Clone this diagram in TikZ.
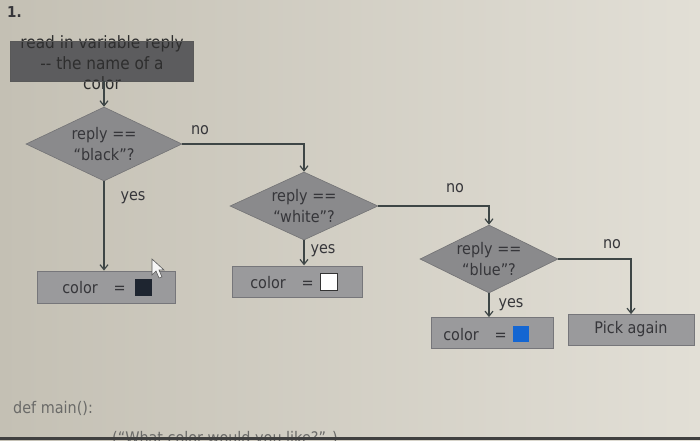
\documentclass[tikz,border=0pt]{standalone}
\usepackage{fontspec}
\setmainfont{DejaVu Sans}[FakeStretch=0.9]
\usetikzlibrary{shapes.geometric,arrows.meta}
\definecolor{bgL}{HTML}{C4C0B4}
\definecolor{bgR}{HTML}{E2DFD6}
\definecolor{txt}{HTML}{36363A}
\definecolor{ln}{HTML}{3E4646}
\definecolor{diaF}{HTML}{8A8A8C}
\definecolor{diaB}{HTML}{737375}
\definecolor{boxF}{HTML}{9A9A9C}
\definecolor{boxB}{HTML}{76767A}
\definecolor{topF}{HTML}{5C5C5E}
\definecolor{blueSq}{HTML}{1466D2}
\definecolor{darkSq}{HTML}{1E2530}
\definecolor{codeT}{HTML}{6A6A68}
\begin{document}
\begin{tikzpicture}[x=1pt,y=-1pt,
  lbl/.style={font=\fontsize{16}{18}\selectfont, text=txt, inner sep=0pt},
  dtext/.style={font=\fontsize{16}{21}\selectfont, text=txt, align=center, inner sep=0pt},
  dia/.style={diamond, draw=diaB, fill=diaF, inner sep=0pt, line width=0.6pt},
  boxn/.style={rectangle, draw=boxB, fill=boxF, inner sep=0pt, line width=0.8pt},
  sq/.style={rectangle, inner sep=0pt, minimum width=17pt, minimum height=17pt},
  conn/.style={draw=ln, line width=1.2pt, -{Straight Barb[length=5pt,width=8pt]}},
  plain/.style={draw=ln, line width=1.2pt}
]
\clip (0,0) rectangle (700,440);
\shade[left color=bgL, right color=bgR] (0,0) rectangle (700,440);

% number
\node[lbl, font=\fontsize{15}{17}\selectfont\bfseries, anchor=west] (num) at (7,12) {1.};

% top box
\fill[topF] (10,41) rectangle (193,81);
\node[font=\fontsize{17}{20.5}\selectfont, text=black!82, align=center, inner sep=0pt] (top) at (102,63) {read in variable reply\\-{}- the name of a\\color};
\draw[draw=black!65, line width=0.8pt] (10,41) rectangle (193,81);
\coordinate (topb) at (104,81);

% diamonds
\node[dia, minimum width=156pt, minimum height=74pt] (d1) at (104,144) {};
\node[dtext] (d1t) at (104,144) {reply ==\\“black”?};
\node[dia, minimum width=148pt, minimum height=68pt] (d2) at (304,206) {};
\node[dtext] (d2t) at (304,206) {reply ==\\“white”?};
\node[dia, minimum width=138pt, minimum height=68pt] (d3) at (489,259) {};
\node[dtext] (d3t) at (489,259) {reply ==\\“blue”?};

% boxes
\node[boxn, minimum width=138pt, minimum height=32pt] (b1) at (106,287) {};
\node[boxn, minimum width=130pt, minimum height=31pt] (b2) at (297,282) {};
\node[boxn, minimum width=122pt, minimum height=31pt] (b3) at (492,333) {};
\node[boxn, minimum width=126pt, minimum height=31pt] (b4) at (631,330) {};

% box texts
\node[lbl, anchor=east] (b1t) at (126,288) {color\quad =};
\node[sq, fill=darkSq] (s1) at (143,287) {};
\node[lbl, anchor=east] (b2t) at (314,283) {color\quad =};
\node[sq, fill=white, draw=black!80, line width=0.8pt] (s2) at (329,282) {};
\node[lbl, anchor=east] (b3t) at (507,335) {color\quad =};
\node[sq, fill=blueSq, minimum width=16pt, minimum height=16pt] (s3) at (521,334) {};
\node[lbl] (b4t) at (631,329) {Pick again};

% connectors
\draw[conn] (topb) -- (d1.north);
\draw[conn] (d1.south) -- (d1.south |- b1.north);
\draw[conn] (d1.east) -| (d2.north);
\draw[conn] (d2.south) -- ++(0,25);
\draw[conn] (d2.east) -| (d3.north);
\draw[conn] (d3.south) -- (d3.south |- b3.north);
\draw[conn] (d3.east) -| (b4.north);

% labels
\node[lbl] (no1) at (200,130) {no};
\node[lbl] (yes1) at (133,198) {yes};
\node[lbl] (no2) at (455,188) {no};
\node[lbl] (yes2) at (323,251) {yes};
\node[lbl] (no3) at (612,244) {no};
\node[lbl] (yes3) at (511,305) {yes};

% cursor
\filldraw[fill=white!92!gray, draw=gray!70!black, line width=0.6pt]
  (152,259) -- (152,275) -- (156,271) -- (159,278) -- (162,277) -- (159,270) -- (164,270) -- cycle;

% code text
\node[font=\fontsize{16}{18}\selectfont, text=codeT, anchor=west, inner sep=0pt] (code1) at (13,408) {def main():};
\node[font=\fontsize{16}{18}\selectfont, text=codeT, anchor=base west, inner sep=0pt] (code2) at (112,443) {(“What color would you like?” )};
\fill[black!75] (0,436.5) rectangle (700,440);
\end{tikzpicture}
\end{document}
